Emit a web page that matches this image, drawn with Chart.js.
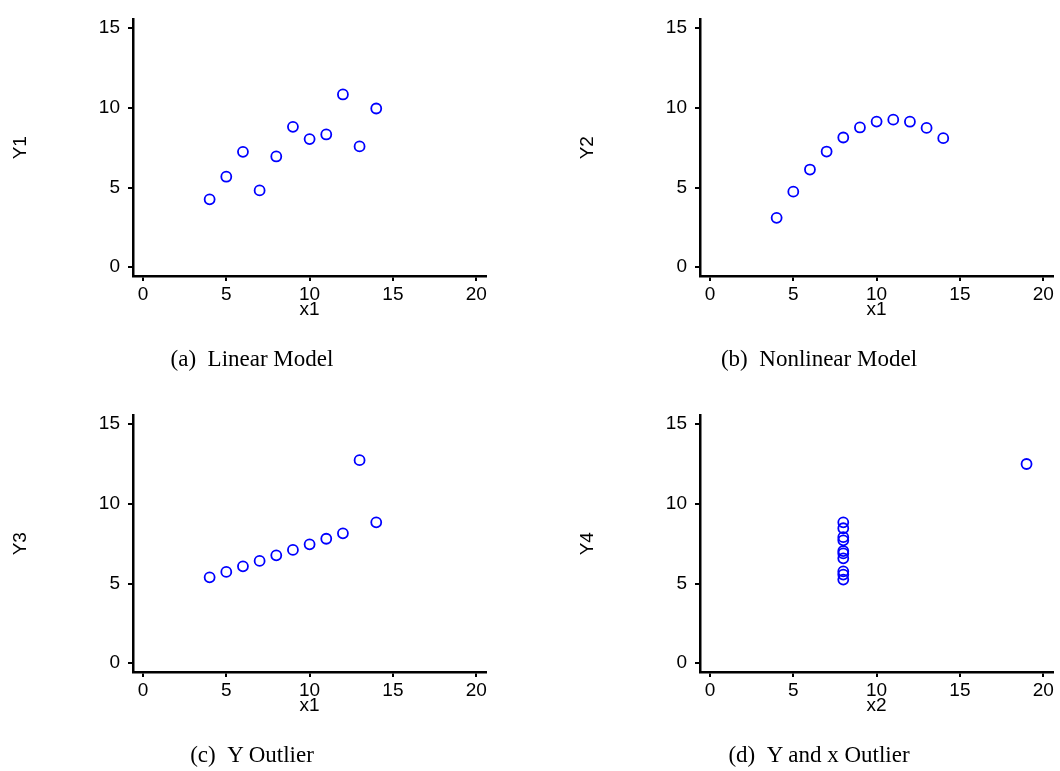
<!DOCTYPE html>
<html>
<head>
<meta charset="utf-8">
<title>Anscombe quartet</title>
<script src="https://cdn.jsdelivr.net/npm/chart.js@4.4.1/dist/chart.umd.min.js"></script>
<style>
body { margin: 0; background: #fff; width: 1060px; height: 771px; overflow: hidden; position: relative; }
.panel { position: absolute; width: 493px; height: 395px; }
.caption { position: absolute; width: 400px; text-align: center; white-space: nowrap; color: #000;
  font: 23px/23px "Liberation Serif", "Times New Roman", serif; }
</style>
</head>
<body>
<div class="panel" style="left:0;top:0"><canvas id="plotA"></canvas></div>
<div class="panel" style="left:567px;top:0"><canvas id="plotB"></canvas></div>
<div class="panel" style="left:0;top:396px"><canvas id="plotC"></canvas></div>
<div class="panel" style="left:567px;top:396px"><canvas id="plotD"></canvas></div>

<div class="caption" style="left:52px;top:347px">(a)&nbsp;&nbsp;Linear Model</div>
<div class="caption" style="left:619px;top:347px">(b)&nbsp;&nbsp;Nonlinear Model</div>
<div class="caption" style="left:52px;top:743px">(c)&nbsp;&nbsp;Y Outlier</div>
<div class="caption" style="left:619px;top:743px">(d)&nbsp;&nbsp;Y and x Outlier</div>

<script>
// Anscombe's four data sets
const x1 = [10, 8, 13, 9, 11, 14, 6, 4, 12, 7, 5];
const x2 = [8, 8, 8, 8, 8, 8, 8, 19, 8, 8, 8];
const y1 = [8.04, 6.95, 7.58, 8.81, 8.33, 9.96, 7.24, 4.26, 10.84, 4.82, 5.68];
const y2 = [9.14, 8.14, 8.74, 8.77, 9.26, 8.10, 6.13, 3.10, 9.13, 7.26, 4.74];
const y3 = [7.46, 6.77, 12.74, 7.11, 7.81, 8.84, 6.08, 5.39, 8.15, 6.42, 5.73];
const y4 = [6.58, 5.76, 7.71, 8.84, 8.47, 7.04, 5.25, 12.50, 5.56, 7.91, 6.89];

const xTicks = [0, 5, 10, 15, 20];
const yTicks = [0, 5, 10, 15];

const axisFont = { family: '"Liberation Sans", Arial, sans-serif', size: 19 };

function makePlot(id, xs, ys, xName, yName) {
    const points = xs.map((x, i) => ({ x: x, y: ys[i] }));

    new Chart(document.getElementById(id), {
        type: 'scatter',
        data: {
            datasets: [{
                data: points,
                pointStyle: 'circle',
                pointRadius: 5,
                pointBorderWidth: 1.8,
                pointBorderColor: '#0000ff',
                pointBackgroundColor: 'rgba(0,0,0,0)'
            }]
        },
        options: {
            responsive: true,
            maintainAspectRatio: false,
            animation: false,
            layout: { padding: { top: 13, right: 6, left: 0, bottom: 0 } },
            plugins: { legend: { display: false }, tooltip: { enabled: false } },
            scales: {
                x: {
                    type: 'linear',
                    min: -0.6,
                    max: 20.6,
                    afterBuildTicks: s => { s.ticks = xTicks.map(v => ({ value: v })); },
                    afterFit: s => { s.height = 119; },
                    border: { display: true, color: '#000', width: 2.5 },
                    grid: { display: true, drawOnChartArea: false, drawTicks: true, tickLength: 5, color: '#000', lineWidth: 2 },
                    ticks: { color: '#000', font: axisFont, padding: 2, maxRotation: 0, autoSkip: false },
                    title: { display: true, text: xName, color: '#000', font: axisFont, padding: { top: 0, bottom: 74 } }
                },
                y: {
                    type: 'linear',
                    min: -0.55,
                    max: 15.55,
                    afterBuildTicks: s => { s.ticks = yTicks.map(v => ({ value: v })); },
                    afterFit: s => { s.width = 133; },
                    border: { display: true, color: '#000', width: 2.5 },
                    grid: { display: true, drawOnChartArea: false, drawTicks: true, tickLength: 5, color: '#000', lineWidth: 2 },
                    ticks: { color: '#000', font: axisFont, padding: 8, autoSkip: false },
                    title: { display: true, text: yName, color: '#000', font: axisFont, padding: { top: 9, bottom: 0 } }
                }
            }
        }
    });
}

makePlot('plotA', x1, y1, 'x1', 'Y1');
makePlot('plotB', x1, y2, 'x1', 'Y2');
makePlot('plotC', x1, y3, 'x1', 'Y3');
makePlot('plotD', x2, y4, 'x2', 'Y4');
</script>
</body>
</html>
